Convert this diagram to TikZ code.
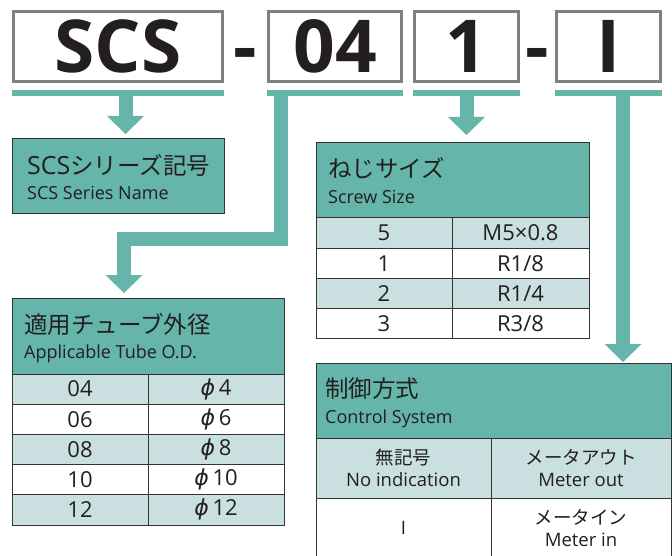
\documentclass[tikz,border=0pt]{standalone}
\usepackage{fontspec}
\setmainfont{Open Sans}
\newfontfamily\jp{Noto Sans CJK JP}
\newfontfamily\phifont{DejaVu Sans}
\usetikzlibrary{positioning,calc,arrows.meta}
\definecolor{pipeteal}{RGB}{101,181,171}
\definecolor{pale}{RGB}{201,223,224}
\definecolor{frame}{RGB}{128,128,128}
\definecolor{rule}{RGB}{51,51,51}
\definecolor{ink}{RGB}{35,31,32}

\begin{document}
\begin{tikzpicture}[x=1pt,y=-1pt,
	codebox/.style={draw=frame,line width=3pt,inner sep=0pt,minimum height=70pt,text=ink,font=\fontsize{73}{80}\selectfont\bfseries},
	underbar/.style={draw=pipeteal,line width=6pt},
	pipe/.style={draw=pipeteal,line width=14pt,-{Triangle[width=37pt,length=18pt,line width=0pt]}},
	tablehead/.style={draw=rule,line width=1pt,fill=pipeteal,inner sep=0pt,outer sep=0pt,anchor=north west},
	headjp/.style={anchor=base west,inner sep=0pt,text=ink,font=\fontsize{23.5}{28}\selectfont},
	headen/.style={anchor=base west,inner sep=0pt,text=ink,font=\fontsize{18}{22}\selectfont},
	tcell/.style={draw=rule,line width=1pt,fill=white,inner sep=0pt,outer sep=0pt,minimum height=30.2pt,text=ink,font=\fontsize{22}{26}\selectfont},
	ccell/.style={draw=rule,line width=1pt,fill=white,inner sep=0pt,outer sep=0pt,minimum height=60pt,align=center,text=ink,font=\fontsize{18.5}{22}\selectfont},
	]
	\useasboundingbox (0,0) rectangle (672,556);

	\node[codebox,minimum width=209pt] (scs) at (118,46.5) {SCS};
	\node[codebox,minimum width=133pt] (size) at (335,46.5) {04};
	\node[codebox,minimum width=104pt] (screw) at (466.5,46.5) {1};
	\node[codebox,minimum width=104pt] (ctrl) at (608.5,46.5) {I};
	\node[anchor=base,inner sep=0pt,text=ink,font=\fontsize{73}{80}\selectfont\bfseries] (dash1) at ($(scs.base east)!0.5!(size.base west)$) {-};
	\node[anchor=base,inner sep=0pt,text=ink,font=\fontsize{73}{80}\selectfont\bfseries] (dash2) at ($(screw.base east)!0.5!(ctrl.base west)$) {-};

	\node[tablehead,minimum width=212pt,minimum height=75pt] (name) at (12,139) {};
	\node[headjp] (namejp) at ($(name.north west)+(15,36)$) {{\fontsize{25}{30}\selectfont SCS}{\jp シリーズ記号}};
	\node[headen] (nameen) at ($(name.north west)+(15,61)$) {SCS Series Name};

	\node[tablehead,minimum width=272pt,minimum height=76pt] (tube) at (12,298) {};
	\node[headjp] (tubejp) at ($(tube.north west)+(12,35)$) {\jp 適用チューブ外径};
	\node[headen] (tubeen) at ($(tube.north west)+(12,60)$) {Applicable Tube O.D.};
	\node[tcell,fill=pale,minimum width=136pt,anchor=north west] (tube1) at (tube.south west) {04};
	\node[tcell,fill=pale,minimum width=136pt,right=0pt of tube1] (tube1r) {{\phifont\itshape ϕ}\,4};
	\node[tcell,minimum width=136pt,below=0pt of tube1] (tube2) {06};
	\node[tcell,minimum width=136pt,right=0pt of tube2] (tube2r) {{\phifont\itshape ϕ}\,6};
	\node[tcell,fill=pale,minimum width=136pt,below=0pt of tube2] (tube3) {08};
	\node[tcell,fill=pale,minimum width=136pt,right=0pt of tube3] (tube3r) {{\phifont\itshape ϕ}\,8};
	\node[tcell,minimum width=136pt,below=0pt of tube3] (tube4) {10};
	\node[tcell,minimum width=136pt,right=0pt of tube4] (tube4r) {{\phifont\itshape ϕ}\,10};
	\node[tcell,fill=pale,minimum width=136pt,below=0pt of tube4] (tube5) {12};
	\node[tcell,fill=pale,minimum width=136pt,right=0pt of tube5] (tube5r) {{\phifont\itshape ϕ}\,12};

	\node[tablehead,minimum width=273pt,minimum height=75pt] (screwsize) at (316,143) {};
	\node[headjp] (screwjp) at ($(screwsize.north west)+(12,35)$) {\jp ねじサイズ};
	\node[headen] (screwen) at ($(screwsize.north west)+(12,61)$) {Screw Size};
	\node[tcell,fill=pale,minimum width=136pt,anchor=north west] (screw1) at (screwsize.south west) {5};
	\node[tcell,fill=pale,minimum width=137pt,right=0pt of screw1] (screw1r) {M5×0.8};
	\node[tcell,minimum width=136pt,below=0pt of screw1] (screw2) {1};
	\node[tcell,minimum width=137pt,right=0pt of screw2] (screw2r) {R1/8};
	\node[tcell,fill=pale,minimum width=136pt,below=0pt of screw2] (screw3) {2};
	\node[tcell,fill=pale,minimum width=137pt,right=0pt of screw3] (screw3r) {R1/4};
	\node[tcell,minimum width=136pt,below=0pt of screw3] (screw4) {3};
	\node[tcell,minimum width=137pt,right=0pt of screw4] (screw4r) {R3/8};

	\node[tablehead,minimum width=355pt,minimum height=75pt] (control) at (316,363) {};
	\node[headjp] (controljp) at ($(control.north west)+(9,34)$) {\jp 制御方式};
	\node[headen] (controlen) at ($(control.north west)+(9,60)$) {Control System};
	\node[ccell,fill=pale,minimum width=175pt,anchor=north west] (control1) at (control.south west) {{\jp 無記号}\\No indication};
	\node[ccell,fill=pale,minimum width=180pt,right=0pt of control1] (control1r) {{\jp メータアウト}\\Meter out};
	\node[ccell,minimum width=175pt,below=0pt of control1] (control2) {I};
	\node[ccell,minimum width=180pt,right=0pt of control2] (control2r) {{\jp メータイン}\\Meter in};

	\draw[underbar] ([yshift=-10pt]scs.south west) -- ([yshift=-10pt]scs.south east);
	\draw[underbar] ([yshift=-10pt]size.south west) -- ([yshift=-10pt]size.south east);
	\draw[underbar] ([yshift=-10pt]screw.south west) -- ([yshift=-10pt]screw.south east);
	\draw[underbar] ([yshift=-10pt]ctrl.south west) -- ([yshift=-10pt]ctrl.south east);
	\draw[pipe] ($(scs.south)+(7.5,10)$) -- ($(name.north)+(7.5,-5)$);
	\draw[pipe] ($(size.south)+(-54.5,10)$) -- ++(0,146.5) -| ($(tube.north)+(-24,-5)$);
	\draw[pipe] ($(screw.south)+(0,10)$) -- ($(screw.south |- screwsize.north)+(0,-8)$);
	\draw[pipe] ($(ctrl.south)+(14.5,10)$) -- ($(ctrl.south |- control.north)+(14.5,-1)$);
\end{tikzpicture}
\end{document}
